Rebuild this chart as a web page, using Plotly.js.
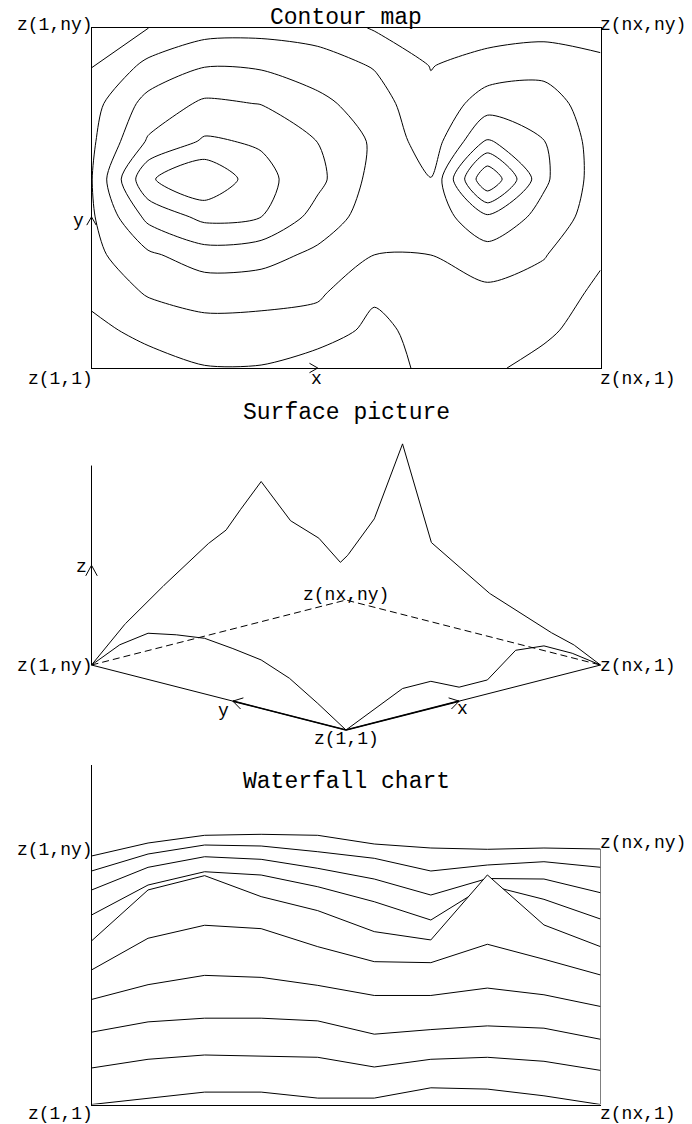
<!DOCTYPE html>
<html>
<head>
<meta charset="utf-8">
<script src="https://cdn.plot.ly/plotly-3.0.1.min.js"></script>
<style>
html,body{margin:0;padding:0;background:#fff;}
#chart{width:692px;height:1124px;}
</style>
</head>
<body>
<div id="chart"></div>
<script>
// ---------------- data ----------------
const xIdx = [1, 2, 3, 4, 5, 6, 7, 8, 9, 10];
const yIdx = [1, 2, 3, 4, 5, 6, 7, 8, 9, 10];
// z(i,j): one array per row j (j = 1 .. ny), values for i = 1 .. nx
const zRow01 = [0.0, 6.4, 12.4, 12.4, 6.4, 6.4, 16.7, 15.4, 8.7, 0.0];
const zRow02 = [8.9, 17.6, 21.9, 20.9, 19.6, 9.9, 17.6, 19.6, 15.6, 6.5];
const zRow03 = [17.1, 27.4, 31.1, 31.1, 28.4, 15.1, 19.7, 23.4, 21.1, 10.0];
const zRow04 = [22.2, 37.0, 46.3, 44.3, 36.3, 26.2, 26.2, 33.6, 26.9, 15.2];
const zRow05 = [24.1, 55.8, 68.8, 65.4, 47.4, 32.4, 31.4, 49.8, 34.8, 19.1];
const zRow06 = [25.5, 76.5, 90.8, 69.8, 55.8, 34.8, 26.5, 91.5, 41.5, 19.8];
const zRow07 = [23.8, 53.8, 67.1, 63.8, 52.1, 37.1, 18.8, 53.8, 39.5, 19.8];
const zRow08 = [21.2, 43.9, 54.5, 51.9, 42.9, 32.2, 16.2, 32.7, 32.2, 18.5];
const zRow09 = [12.6, 29.6, 38.6, 37.6, 31.9, 25.3, 12.6, 18.6, 21.9, 16.3];
const zRow10 = [0.0, 13.0, 20.7, 21.7, 20.7, 12.0, 8.0, 6.7, 8.0, 7.0];
const contourLevels = [13.07, 26.14, 39.21, 52.28, 65.35, 78.42];
const waterfallOffset = 27.61;   // vertical offset between successive rows
const titles = ['Contour map', 'Surface picture', 'Waterfall chart'];
const cornerText = {c11: 'z(1,1)', cn1: 'z(nx,1)', c1n: 'z(1,ny)', cnn: 'z(nx,ny)'};
const axisText = {x: 'x', y: 'y', z: 'z'};

const Z = [zRow01, zRow02, zRow03, zRow04, zRow05, zRow06, zRow07, zRow08, zRow09, zRow10];
const NX = xIdx.length, NY = yIdx.length;
const zMax = Math.max(...Z.map(r => Math.max(...r)));

// ---------------- geometry (pixels) ----------------
const W = 692, H = 1124;
const FONT = '"Liberation Mono", "Courier New", monospace';
const PX0 = 91.5, PX1 = 600.5, PXC = (PX0 + PX1) / 2;
const CT = {top: 28, bottom: 368};
const SF = {top: 420, bottom: 770, left: 30, right: 662, y0: 730, pxPerZ: 2.18, rise: 7.22};
const WF = {top: 764.5, bottom: 1104.5};
const KB = SF.rise / SF.pxPerZ;      // screen rise per grid step, in z units

const dx = (a, b) => [a / W, b / W];
const dy = (top, bottom) => [1 - bottom / H, 1 - top / H];
const LINE = {color: '#000', width: 1};

function tr(xa, ya, x, y, extra) {
  return Object.assign({type: 'scatter', mode: 'lines', xaxis: xa, yaxis: ya, x: x, y: y,
    line: LINE, hoverinfo: 'skip', showlegend: false}, extra || {});
}
// arrow head drawn on the full-page pixel overlay (x4/y4); dir given in screen pixels
function arrowPx(p, dir, len, ang) {
  const n = Math.hypot(dir[0], dir[1]);
  const bx = -dir[0] / n, by = -dir[1] / n, out = [];
  [1, -1].forEach(s => {
    const c = Math.cos(ang), sn = Math.sin(ang) * s;
    out.push([p[0] + (bx * c - by * sn) * len, p[1] + (bx * sn + by * c) * len]);
  });
  return tr('x4', 'y4', [out[0][0], p[0], out[1][0]], [out[0][1], p[1], out[1][1]]);
}

const traces = [];

// ---------------- 1. contour map ----------------
traces.push({
  type: 'contour', xaxis: 'x', yaxis: 'y', x: xIdx, y: yIdx, z: Z,
  autocontour: false,
  contours: {start: contourLevels[0], end: contourLevels[contourLevels.length - 1],
             size: contourLevels[1] - contourLevels[0], coloring: 'none', showlabels: false},
  line: {color: '#000', width: 1, smoothing: 0.75},
  showscale: false, hoverinfo: 'skip'
});
const ctSx = (PX1 - PX0) / (NX - 1), ctSy = (CT.bottom - CT.top) / (NY - 1);
const ctPx = (i, j) => [PX0 + (i - 1) * ctSx, CT.bottom - (j - 1) * ctSy];
const mid = Math.ceil(NX / 2);

// ---------------- 2. surface picture ----------------
const su = (i, j) => i - j;                       // 0-based indices
const sw = (i, j) => (i + j) * KB + Z[j][i];
const sfSx = (PX1 - PX0) / (NX + NY - 2);
const sfPx = (u, w) => [PXC + u * sfSx, SF.y0 - w * SF.pxPerZ];
const segs = [];
for (let j = 0; j < NY; j++) for (let i = 0; i < NX - 1; i++)
  segs.push([su(i, j), sw(i, j), su(i + 1, j), sw(i + 1, j)]);
for (let i = 0; i < NX; i++) for (let j = 0; j < NY - 1; j++)
  segs.push([su(i, j + 1), sw(i, j + 1), su(i, j), sw(i, j)]);
const envU = [], envW = [];
const STEPS = 50;
for (let k = -(NY - 1) * STEPS; k <= (NX - 1) * STEPS; k++) {
  const uu = k / STEPS; let best = -Infinity;
  for (const s of segs) {
    if (uu >= s[0] - 1e-9 && uu <= s[2] + 1e-9) {
      const v = s[1] + (uu - s[0]) * (s[3] - s[1]) / (s[2] - s[0]);
      if (v > best) best = v;
    }
  }
  envU.push(uu); envW.push(best);
}
traces.push(tr('x2', 'y2', envU, envW));
// front edges of the surface: row j=1 and column i=1
traces.push(tr('x2', 'y2', xIdx.map((_, i) => su(i, 0)), xIdx.map((_, i) => sw(i, 0))));
traces.push(tr('x2', 'y2', yIdx.map((_, j) => su(0, j)), yIdx.map((_, j) => sw(0, j))));
// base plane
const uL = -(NY - 1), uR = NX - 1;
const wL = (NY - 1) * KB, wR = (NX - 1) * KB, wB = (NX + NY - 2) * KB;
traces.push(tr('x2', 'y2', [uL, 0, uR], [wL, 0, wR]));
traces.push(tr('x2', 'y2', [uL, 0, uR], [wL, wB, wR], {line: {color: '#000', width: 1, dash: '7px,4px'}}));
// axes with arrows
const am = mid - 1;
traces.push(tr('x2', 'y2', [0, am], [0, am * KB], {line: {color: '#000', width: 1.6}}));
traces.push(tr('x2', 'y2', [0, -am], [0, am * KB], {line: {color: '#000', width: 1.6}}));
traces.push(tr('x2', 'y2', [uL, uL], [wL, wL + zMax]));

// ---------------- 3. waterfall chart ----------------
for (let j = NY - 1; j >= 0; j--) {
  traces.push(tr('x3', 'y3', xIdx, Z[j].map(v => j * waterfallOffset + v),
    {fill: 'tozeroy', fillcolor: '#ffffff'}));
}
traces.push(tr('x3', 'y3', [NX, NX], [0, (NY - 1) * waterfallOffset + Z[NY - 1][NX - 1]]));

// ---------------- arrow heads (pixel overlay) ----------------
traces.push(arrowPx(ctPx(mid, 1), [1, 0], 9.5, 0.52));
traces.push(arrowPx(ctPx(1, mid), [0, -1], 9.5, 0.52));
traces.push(arrowPx(sfPx(am, am * KB), [sfSx, -SF.rise], 11, 0.55));
traces.push(arrowPx(sfPx(-am, am * KB), [-sfSx, -SF.rise], 11, 0.55));
traces.push(arrowPx(sfPx(uL, wL + zMax / 2), [0, -1], 12, 0.5));

// ---------------- layout ----------------
const hidden = {visible: false, fixedrange: true};
const boxAxis = {showline: true, linecolor: '#000', linewidth: 1, ticks: '', showticklabels: false,
                 showgrid: false, zeroline: false, fixedrange: true};

function lab(text, xref, yref, x, y, xanchor, xshift, yshift, size) {
  return {text: text, xref: xref, yref: yref, x: x, y: y, xanchor: xanchor, yanchor: 'middle',
          xshift: xshift, yshift: yshift, showarrow: false, borderpad: 0, borderwidth: 0,
          font: {family: FONT, size: size || 18, color: '#000'}};
}
const pX = px => px / W, pY = py => 1 - py / H;
const wfTopL = (NY - 1) * waterfallOffset + Z[NY - 1][0];
const wfTopR = (NY - 1) * waterfallOffset + Z[NY - 1][NX - 1];

const annotations = [
  lab(titles[0], 'paper', 'paper', pX(PXC), pY(17.5), 'center', 0, 0, 23),
  lab(titles[1], 'paper', 'paper', pX(PXC), pY(413), 'center', 0, 0, 23),
  lab(titles[2], 'paper', 'paper', pX(PXC), pY(782), 'center', 0, 0, 23),
  // contour
  lab(cornerText.c1n, 'x', 'y', 1, NY, 'right', 1, 3),
  lab(cornerText.cnn, 'x', 'y', NX, NY, 'left', -1, 3),
  lab(cornerText.c11, 'x', 'y', 1, 1, 'right', 1, -10.5),
  lab(cornerText.cn1, 'x', 'y', NX, 1, 'left', -1, -10.5),
  lab(axisText.x, 'x', 'y', mid, 1, 'center', -1, -11),
  lab(axisText.y, 'x', 'y', 1, mid, 'right', -8, -4),
  // surface
  lab(cornerText.c1n, 'x2', 'y2', uL, wL, 'right', 1, -0.5),
  lab(cornerText.cn1, 'x2', 'y2', uR, wR, 'left', -1, -0.5),
  lab(cornerText.c11, 'x2', 'y2', 0, 0, 'center', 0, -9),
  lab(cornerText.cnn, 'x2', 'y2', 0, wB, 'center', 0, 5),
  lab(axisText.z, 'x2', 'y2', uL, wL + zMax / 2, 'right', -5, -2),
  lab(axisText.y, 'x2', 'y2', -am, am * KB, 'center', -9, -10),
  lab(axisText.x, 'x2', 'y2', am, am * KB, 'center', 3, -8),
  // waterfall
  lab(cornerText.c1n, 'x3', 'y3', 1, wfTopL, 'right', 1, 6),
  lab(cornerText.cnn, 'x3', 'y3', NX, wfTopR, 'left', -1, 5.7),
  lab(cornerText.c11, 'x3', 'y3', 1, 0, 'right', 1, -9.5),
  lab(cornerText.cn1, 'x3', 'y3', NX, 0, 'left', -1, -9.5)
];

const sfRange = [(SF.left - PXC) / sfSx, (SF.right - PXC) / sfSx];
const layout = {
  width: W, height: H, margin: {l: 0, r: 0, t: 0, b: 0},
  paper_bgcolor: '#ffffff', plot_bgcolor: 'rgba(0,0,0,0)', showlegend: false,
  font: {family: FONT, color: '#000'},
  xaxis: Object.assign({}, boxAxis, {domain: dx(PX0, PX1), range: [1, NX], mirror: true, anchor: 'y'}),
  yaxis: Object.assign({}, boxAxis, {domain: dy(CT.top, CT.bottom), range: [1, NY], mirror: true, anchor: 'x'}),
  xaxis2: Object.assign({}, hidden, {domain: dx(SF.left, SF.right), range: sfRange, anchor: 'y2'}),
  yaxis2: Object.assign({}, hidden, {domain: dy(SF.top, SF.bottom),
          range: [(SF.y0 - SF.bottom) / SF.pxPerZ, (SF.y0 - SF.top) / SF.pxPerZ], anchor: 'x2'}),
  xaxis3: Object.assign({}, boxAxis, {domain: dx(PX0, PX1), range: [1, NX], anchor: 'y3'}),
  yaxis3: Object.assign({}, boxAxis, {domain: dy(WF.top, WF.bottom),
          range: [0, (NY - 1) * waterfallOffset + zMax], anchor: 'x3'}),
  xaxis4: Object.assign({}, hidden, {domain: [0, 1], range: [0, W], anchor: 'y4'}),
  yaxis4: Object.assign({}, hidden, {domain: [0, 1], range: [H, 0], anchor: 'x4'}),
  annotations: annotations
};

Plotly.newPlot('chart', traces, layout, {displayModeBar: false, staticPlot: true});
</script>
</body>
</html>
